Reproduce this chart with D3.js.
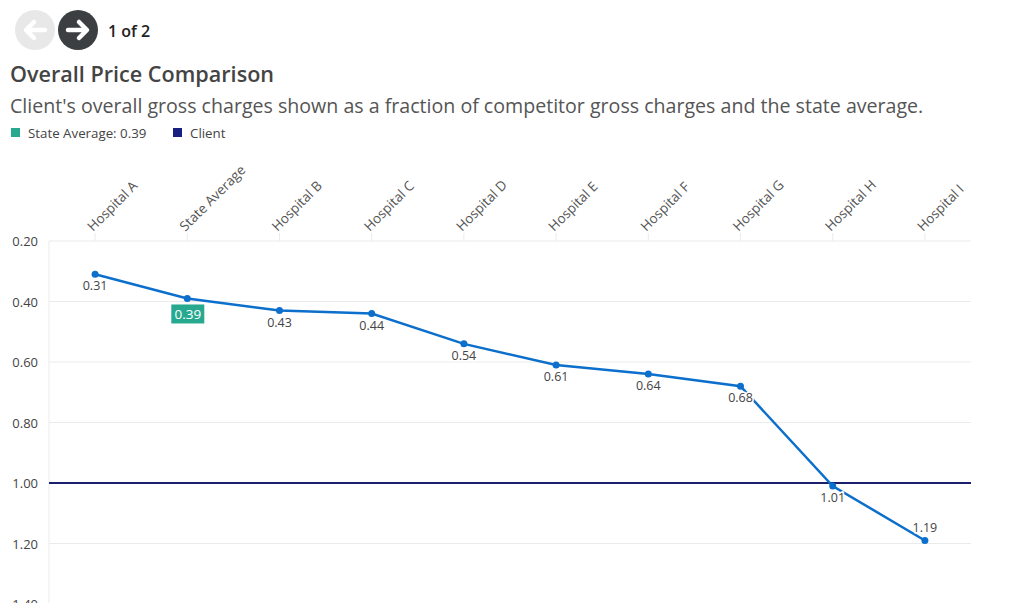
<!DOCTYPE html>
<html><head><meta charset="utf-8">
<script src="https://cdn.jsdelivr.net/npm/d3@7"></script>
<style>body{margin:0;background:#fff;font-family:"Open Sans",sans-serif;} svg{display:block;}</style>
</head><body>
<svg id="c" width="1020" height="603"></svg>
<script>
const categories = ["Hospital A","State Average","Hospital B","Hospital C","Hospital D","Hospital E","Hospital F","Hospital G","Hospital H","Hospital I"];
const values = [0.31,0.39,0.43,0.44,0.54,0.61,0.64,0.68,1.01,1.19];
const yTicks = [0.2,0.4,0.6,0.8,1.0,1.2,1.4];
const clientValue = 1.0;
const stateAverage = 0.39;
const stateIndex = 1;

const svg = d3.select("#c");
const L = 49, R = 971, T = 241;
const x = d3.scalePoint().domain(categories).range([L, R]).padding(0.5);
const y = d3.scaleLinear().domain([0.2, 1.4]).range([T, T + 363]);

// header nav
svg.append("circle").attr("cx",35).attr("cy",30).attr("r",20).attr("fill","#e8e8e8");
svg.append("path").attr("d","M45,30 H27 M34,22 L26,30 L34,38").attr("stroke","#fff").attr("stroke-width",4.5).attr("fill","none").attr("stroke-linecap","round").attr("stroke-linejoin","round");
svg.append("circle").attr("cx",78).attr("cy",30).attr("r",20).attr("fill","#3b3f42");
svg.append("path").attr("d","M68,30 H86 M79,22 L87,30 L79,38").attr("stroke","#fff").attr("stroke-width",4.5).attr("fill","none").attr("stroke-linecap","round").attr("stroke-linejoin","round");
svg.append("text").attr("x",108).attr("y",37).attr("font-size",16).attr("font-weight",600).attr("fill","#222").text("1 of 2");

svg.append("text").attr("x",10).attr("y",82).attr("font-size",21.6).attr("font-weight",600).attr("fill","#444").text("Overall Price Comparison");
svg.append("text").attr("x",10).attr("y",113).attr("font-size",19.6).attr("fill","#555").text("Client's overall gross charges shown as a fraction of competitor gross charges and the state average.");

// legend
const lg = svg.append("g");
lg.append("rect").attr("x",11).attr("y",128).attr("width",9).attr("height",9).attr("fill","#26a98f");
lg.append("text").attr("x",28).attr("y",138).attr("font-size",13.3).attr("fill","#444").text("State Average: " + stateAverage.toFixed(2));
lg.append("rect").attr("x",173).attr("y",128).attr("width",9).attr("height",9).attr("fill","#1a2080");
lg.append("text").attr("x",190).attr("y",138).attr("font-size",13.3).attr("fill","#444").text("Client");

// grid
svg.append("g").selectAll("line").data(yTicks).join("line")
  .attr("x1",L).attr("x2",R).attr("y1",d=>y(d)).attr("y2",d=>y(d))
  .attr("stroke","#ebebeb").attr("stroke-width",1);
svg.append("line").attr("x1",L).attr("x2",L).attr("y1",T).attr("y2",603).attr("stroke","#ebebeb");

// y axis labels
svg.append("g").selectAll("text").data(yTicks).join("text")
  .attr("x",38).attr("y",d=>y(d)+5).attr("text-anchor","end").attr("font-size",13).attr("fill","#444")
  .text(d=>d.toFixed(2));

// x ticks and labels
svg.append("g").selectAll("line").data(categories).join("line")
  .attr("x1",d=>x(d)).attr("x2",d=>x(d)).attr("y1",T-8).attr("y2",T).attr("stroke","#ebebeb");
svg.append("g").selectAll("text").data(categories).join("text")
  .attr("transform",d=>`translate(${x(d)-2},${T-9}) rotate(-45)`)
  .attr("font-size",13.5).attr("fill","#555").text(d=>d);

// client line
svg.append("line").attr("x1",L).attr("x2",R).attr("y1",y(clientValue)).attr("y2",y(clientValue))
  .attr("stroke","#1a1f6e").attr("stroke-width",2);

// series
const line = d3.line().x((d,i)=>x(categories[i])).y(d=>y(d));
svg.append("path").attr("d",line(values)).attr("fill","none").attr("stroke","#0b6fcb").attr("stroke-width",2.5);
svg.append("g").selectAll("circle").data(values).join("circle")
  .attr("cx",(d,i)=>x(categories[i])).attr("cy",d=>y(d)).attr("r",3.5).attr("fill","#0b6fcb");

// labels
const lbl = svg.append("g");
values.forEach((v,i)=>{
  const cx = x(categories[i]), cy = y(v);
  const above = i === values.length-1;
  const ty = above ? cy - 8 : cy + 16;
  if (i === stateIndex) {
    lbl.append("rect").attr("x",cx-16).attr("y",cy+6).attr("width",33).attr("height",19).attr("fill","#26a98f");
    lbl.append("text").attr("x",cx+0.5).attr("y",cy+21).attr("text-anchor","middle").attr("font-size",13.5).attr("fill","#fff").text(v.toFixed(2));
  } else {
    lbl.append("text").attr("x",cx).attr("y",ty).attr("text-anchor","middle").attr("font-size",12.5)
      .attr("fill","#444").attr("stroke","#fff").attr("stroke-width",3).attr("paint-order","stroke").text(v.toFixed(2));
  }
});
</script>
</body></html>
